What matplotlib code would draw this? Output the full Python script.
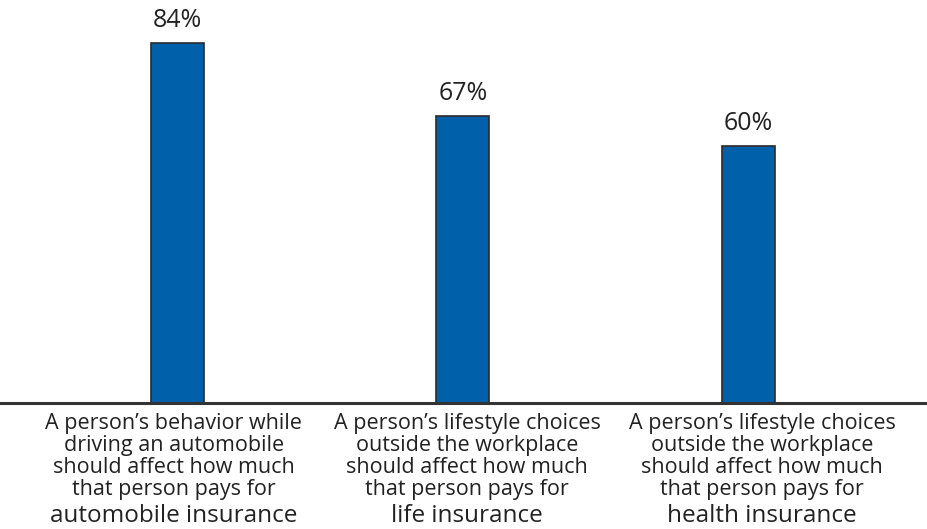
import matplotlib.pyplot as plt
import matplotlib.transforms as mtransforms

values = [84, 67, 60]
labels_small = [
    ["A person\u2019s behavior while", "driving an automobile",
     "should affect how much", "that person pays for"],
    ["A person\u2019s lifestyle choices", "outside the workplace",
     "should affect how much", "that person pays for"],
    ["A person\u2019s lifestyle choices", "outside the workplace",
     "should affect how much", "that person pays for"],
]
labels_big = ["automobile insurance", "life insurance", "health insurance"]

plt.rcParams['font.family'] = ['Open Sans', 'DejaVu Sans']

W, H = 928, 529
fig = plt.figure(figsize=(W / 100, H / 100), dpi=100)
base = 403
ax = fig.add_axes([0, (H - base) / H, 1, base / H])

x = [0, 1, 2]
ax.bar(x, values, width=0.186, color='#0060a9', edgecolor='#2b2b2b', linewidth=1.2, zorder=2)
ax.set_xlim(-0.621, 2.629)
ax.set_ylim(0, 94.03)
ax.axis('off')
ax.axhline(0, color='#333333', linewidth=2.2, zorder=3, clip_on=False)

for xi, v in zip(x, values):
    ax.annotate(f"{v}%", (xi, v), xytext=(0, 7), textcoords='offset points',
                ha='center', va='bottom', fontsize=18, color='#222222')

tr = mtransforms.blended_transform_factory(ax.transData, fig.transFigure)
label_x = [-0.013, 1.015, 2.048]
for lx, lines, big in zip(label_x, labels_small, labels_big):
    for i, line in enumerate(lines):
        y = 429 + i * 22
        ax.text(lx, 1 - y / H, line, transform=tr, ha='center', va='baseline',
                fontsize=15.5, color='#222222')
    ax.text(lx, 1 - 522 / H, big, transform=tr, ha='center', va='baseline',
            fontsize=17.5, color='#222222')

fig.savefig('out.png', dpi=100)
